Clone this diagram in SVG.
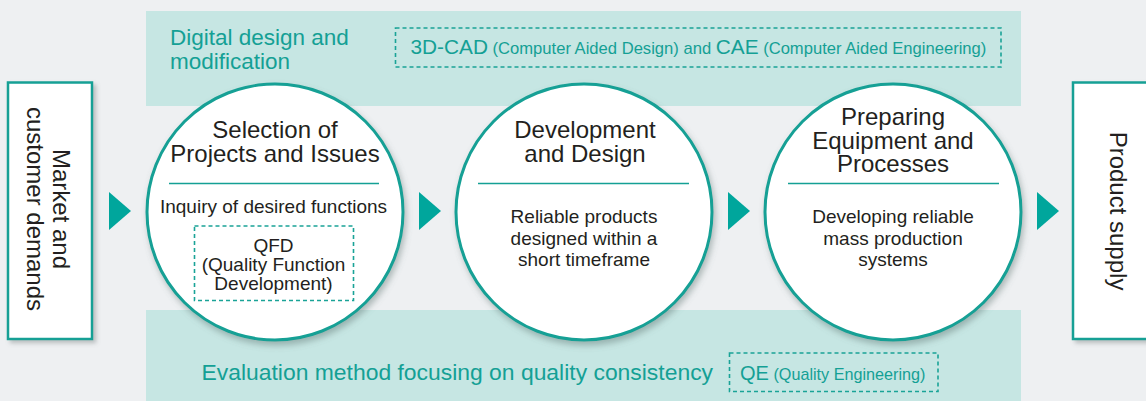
<svg xmlns="http://www.w3.org/2000/svg" width="1146" height="401" viewBox="0 0 1146 401">
  <defs>
    <filter id="shadow" x="-20%" y="-20%" width="140%" height="140%">
      <feDropShadow dx="2" dy="4" stdDeviation="3" flood-color="#5f7472" flood-opacity="0.45"/>
    </filter>
    <filter id="boxShadow" x="-20%" y="-10%" width="140%" height="120%">
      <feDropShadow dx="3" dy="3" stdDeviation="2" flood-color="#6b7675" flood-opacity="0.4"/>
    </filter>
  </defs>
  <style>
    .band { fill: #c6e6e3; }
    .band-text { font-family: "Liberation Sans", Arial, sans-serif; fill: #14a095; }
    .dash { fill: none; stroke: #1aa397; stroke-width: 1.6; stroke-dasharray: 4 3; }
    .circle { fill: #ffffff; stroke: #14a095; stroke-width: 3; }
    .side { fill: #ffffff; stroke: #14a095; stroke-width: 2.5; }
    .title { font-family: "Liberation Sans", Arial, sans-serif; font-size: 24px; fill: #231f20; text-anchor: middle; }
    .body { font-family: "Liberation Sans", Arial, sans-serif; font-size: 19px; fill: #231f20; text-anchor: middle; }
    .side-text { font-family: "Liberation Sans", Arial, sans-serif; font-size: 24px; fill: #231f20; text-anchor: middle; }
    .rule { stroke: #14a095; stroke-width: 1.6; }
    .arrow { fill: #00a69c; }
  </style>

  <!-- background -->
  <rect x="0" y="0" width="1146" height="401" fill="#eef0f2"/>

  <!-- top band: digital design -->
  <g id="band-digital">
    <rect class="band" x="146" y="11" width="875" height="95"/>
    <text class="band-text" font-size="22.5" x="170" y="45">Digital design and</text>
    <text class="band-text" font-size="22.5" x="170" y="68.5">modification</text>
    <rect class="dash" x="395.5" y="28" width="605.5" height="39"/>
    <text class="band-text" x="410.5" y="53.5"><tspan font-size="20.8">3D-CAD</tspan><tspan font-size="16.6"> (Computer Aided Design) and </tspan><tspan font-size="20.8">CAE</tspan><tspan font-size="16.6"> (Computer Aided Engineering)</tspan></text>
  </g>

  <!-- bottom band: evaluation -->
  <g id="band-evaluation">
    <rect class="band" x="146" y="310" width="875" height="91"/>
    <text class="band-text" font-size="22.9" x="201.5" y="380">Evaluation method focusing on quality consistency</text>
    <rect class="dash" x="729.5" y="353" width="208.5" height="38.5"/>
    <text class="band-text" x="740" y="379.5"><tspan font-size="20">QE</tspan><tspan font-size="16.2"> (Quality Engineering)</tspan></text>
  </g>

  <!-- input -->
  <g id="market">
    <rect class="side" x="8" y="82.5" width="84" height="256.5" filter="url(#boxShadow)"/>
    <text class="side-text" transform="translate(53,209) rotate(90)">Market and<tspan x="0" dy="26">customer demands</tspan></text>
  </g>

  <!-- step 1 -->
  <g id="selection">
    <circle class="circle" cx="275" cy="212" r="128" filter="url(#shadow)"/>
    <text class="title" x="275" y="138">Selection of</text>
    <text class="title" x="275" y="162">Projects and Issues</text>
    <line class="rule" x1="169" y1="183.5" x2="379" y2="183.5"/>
    <text class="body" x="273.5" y="213">Inquiry of desired functions</text>
    <rect class="dash" x="194.5" y="226" width="159" height="74.5"/>
    <text class="body" x="273.5" y="251.5">QFD</text>
    <text class="body" x="273.5" y="270.5">(Quality Function</text>
    <text class="body" x="273.5" y="289.5">Development)</text>
  </g>

  <!-- step 2 -->
  <g id="development">
    <circle class="circle" cx="584" cy="212" r="128" filter="url(#shadow)"/>
    <text class="title" x="585" y="138">Development</text>
    <text class="title" x="585" y="162">and Design</text>
    <line class="rule" x1="478" y1="183.5" x2="689" y2="183.5"/>
    <text class="body" x="584" y="223">Reliable products</text>
    <text class="body" x="584" y="244.5">designed within a</text>
    <text class="body" x="584" y="265.5">short timeframe</text>
  </g>

  <!-- step 3 -->
  <g id="preparing">
    <circle class="circle" cx="893" cy="212" r="128" filter="url(#shadow)"/>
    <text class="title" x="893" y="125">Preparing</text>
    <text class="title" x="893" y="148.5">Equipment and</text>
    <text class="title" x="893" y="172">Processes</text>
    <line class="rule" x1="788" y1="183.5" x2="999" y2="183.5"/>
    <text class="body" x="893" y="223">Developing reliable</text>
    <text class="body" x="893" y="244.5">mass production</text>
    <text class="body" x="893" y="265.5">systems</text>
  </g>

  <!-- output -->
  <g id="product-supply">
    <rect class="side" x="1073" y="82.5" width="90" height="256.5" filter="url(#boxShadow)"/>
    <text class="side-text" transform="translate(1110,211) rotate(90)">Product supply</text>
  </g>

  <!-- flow arrows -->
  <g id="connectors">
    <polygon class="arrow" points="109,192 131,211 109,230"/>
    <polygon class="arrow" points="419,192 441,211 419,230"/>
    <polygon class="arrow" points="728,192 750,211 728,230"/>
    <polygon class="arrow" points="1037,192 1059,211 1037,230"/>
  </g>
</svg>
